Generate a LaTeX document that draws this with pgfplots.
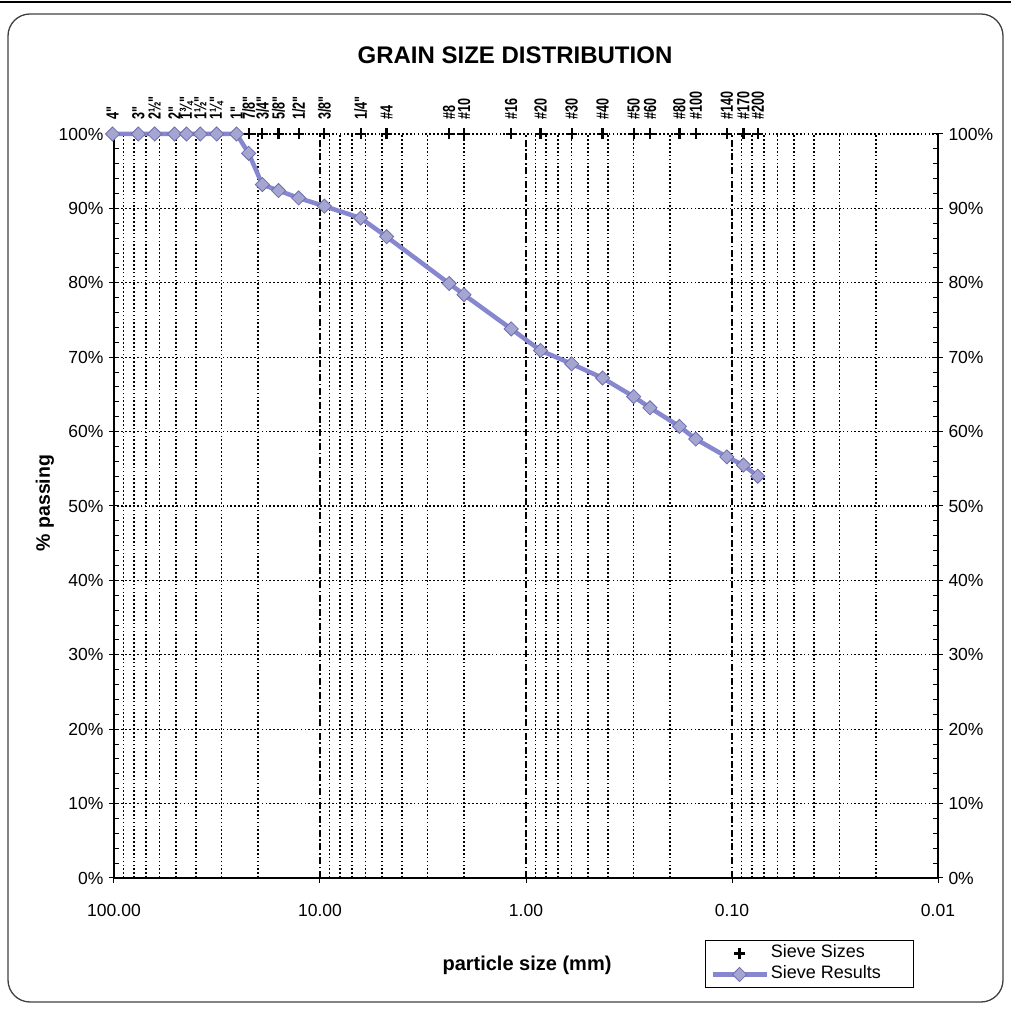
\documentclass[border=0pt]{standalone}
\usepackage{pgfplots}
\pgfplotsset{compat=1.18}
\usepackage{fontspec}
\setmainfont{Liberation Sans}
\newfontfamily\narrowfont{Liberation Sans}[FakeStretch=0.72]

\definecolor{resline}{RGB}{135,135,208}
\definecolor{resfill}{RGB}{165,165,210}
\definecolor{resdraw}{RGB}{110,110,175}

% longer legend samples
\pgfplotsset{legend image code/.code={\draw[mark repeat=2,mark phase=2,#1] plot coordinates {(0pt,0pt) (27pt,0pt) (54pt,0pt)};}}

\begin{document}
\begin{tikzpicture}
\path[use as bounding box] (0pt,0pt) rectangle (1011pt,1015pt);
\draw[line width=1.3pt, black!75, rounded corners=22pt] (8pt,13pt) rectangle (1003pt,1001pt);
\draw[line width=2pt] (0pt,1013pt) -- (1011pt,1013pt);

% right-hand percentage scale
\begin{axis}[
  at={(114pt,137pt)}, anchor=south west,
  scale only axis, width=824pt, height=744pt,
  xmode=log, x dir=reverse, xmin=0.01, xmax=100,
  ymin=0, ymax=100,
  axis x line=none, axis y line*=right,
  axis line style={-, line width=1.2pt, black},
  ytick={0,10,...,100},
  yticklabels={0\%,10\%,20\%,30\%,40\%,50\%,60\%,70\%,80\%,90\%,100\%},
  minor y tick num=4,
  tick align=center, major tick length=10pt, minor tick length=5pt,
  tick style={black, line width=1pt},
  minor y tick style={xshift=-2.5pt},
  every tick label/.append style={font=\fontsize{17.5}{20}\selectfont},
  yticklabel style={anchor=west, xshift=2pt},
]
\addplot[draw=none] coordinates {(1,50)};
\end{axis}

\begin{axis}[
  at={(114pt,137pt)}, anchor=south west,
  scale only axis, width=824pt, height=744pt,
  xmode=log, x dir=reverse, xmin=0.01, xmax=100,
  ymin=0, ymax=100,
  clip=false,
  axis x line*=bottom, axis y line*=left,
  axis line style={-, line width=1.2pt, black},
  ytick={0,10,...,100},
  yticklabels={0\%,10\%,20\%,30\%,40\%,50\%,60\%,70\%,80\%,90\%,100\%},
  minor y tick num=4,
  xtick={0.01,0.1,1,10,100},
  xticklabels={0.01,0.10,1.00,10.00,100.00},
  minor xtick={0.02,0.03,0.04,0.05,0.06,0.07,0.08,0.09,
               0.2,0.3,0.4,0.5,0.6,0.7,0.8,0.9,
               2,3,4,5,6,7,8,9,
               20,30,40,50,60,70,80,90},
  tick align=center, major tick length=10pt, minor tick length=5pt,
  tick style={black, line width=1pt},
  minor x tick style={draw=none},
  minor y tick style={xshift=2.5pt},
  every tick label/.append style={font=\fontsize{17.5}{20}\selectfont},
  xticklabel style={anchor=north, yshift=-18pt},
  yticklabel style={anchor=east, xshift=-2pt},
  xmajorgrids, xminorgrids, ymajorgrids,
  major x grid style={black, line width=1.3pt, dash pattern=on 7pt off 2.5pt on 1.8pt off 2.5pt},
  minor x grid style={black, line width=1.3pt, dash pattern=on 1.7pt off 2.2pt},
  major y grid style={black, line width=1.3pt, dash pattern=on 1.7pt off 2.2pt},
  legend style={at={(axis description cs:0.717,-0.0833)}, anchor=north west,
    draw=black, line width=1pt, font=\fontsize{18}{21}\selectfont,
    inner xsep=5pt, inner ysep=3pt, row sep=1pt,
    nodes={inner xsep=2pt, inner ysep=1.5pt, text height=13pt, text depth=4pt}},
  legend cell align=left,
]

% sieve openings (mm) with their designations
\addplot[only marks, mark=+, mark size=5.5pt, line width=2.2pt, black,
  nodes near coords, point meta=explicit symbolic,
  every node near coord/.append style={anchor=west, rotate=90, xshift=13pt,
    inner sep=0pt, font=\narrowfont\bfseries\fontsize{17.5}{19}\selectfont}]
coordinates {
  (101.6,100) [4"]
  (76.2,100) [3"]
  (63.5,100) [2½"]
  (50.8,100) [2"]
  (44.45,100) [1¾"]
  (38.1,100) [1½"]
  (31.75,100) [1¼"]
  (25.4,100) [1"]
  (22.2,100) [7/8"]
  (19.05,100) [3/4"]
  (15.9,100) [5/8"]
  (12.7,100) [1/2"]
  (9.525,100) [3/8"]
  (6.35,100) [1/4"]
  (4.75,100) [\#4]
  (2.36,100) [\#8]
  (2.00,100) [\#10]
  (1.18,100) [\#16]
  (0.85,100) [\#20]
  (0.60,100) [\#30]
  (0.425,100) [\#40]
  (0.30,100) [\#50]
  (0.25,100) [\#60]
  (0.18,100) [\#80]
  (0.15,100) [\#100]
  (0.106,100) [\#140]
  (0.088,100) [\#170]
  (0.075,100) [\#200]
};
\addlegendentry{Sieve Sizes}

% percent passing
\addplot[color=resline, line width=4.5pt, mark=square*, mark size=5pt,
  mark options={rotate=45, fill=resfill, draw=resdraw, line width=0.8pt}]
coordinates {
  (101.6,100) (76.2,100) (63.5,100) (50.8,100) (44.45,100) (38.1,100)
  (31.75,100) (25.4,100) (22.2,97.4) (19.05,93.2) (15.9,92.4) (12.7,91.4)
  (9.525,90.3) (6.35,88.7) (4.75,86.2) (2.36,79.9) (2.00,78.4) (1.18,73.8)
  (0.85,70.9) (0.60,69.1) (0.425,67.2) (0.30,64.7) (0.25,63.2) (0.18,60.7)
  (0.15,59.0) (0.106,56.6) (0.088,55.5) (0.075,54.0)
};
\addlegendentry{Sieve Results\hspace*{26pt}}
\end{axis}

\node[font=\bfseries\fontsize{24}{28}\selectfont, anchor=base] at (515pt,951.5pt) {GRAIN SIZE DISTRIBUTION};
\node[font=\bfseries\fontsize{20}{24}\selectfont] at (527pt,50pt) {particle size (mm)};
\node[font=\bfseries\fontsize{19.5}{23}\selectfont, rotate=90] at (45pt,512pt) {\% passing};
\end{tikzpicture}
\end{document}
